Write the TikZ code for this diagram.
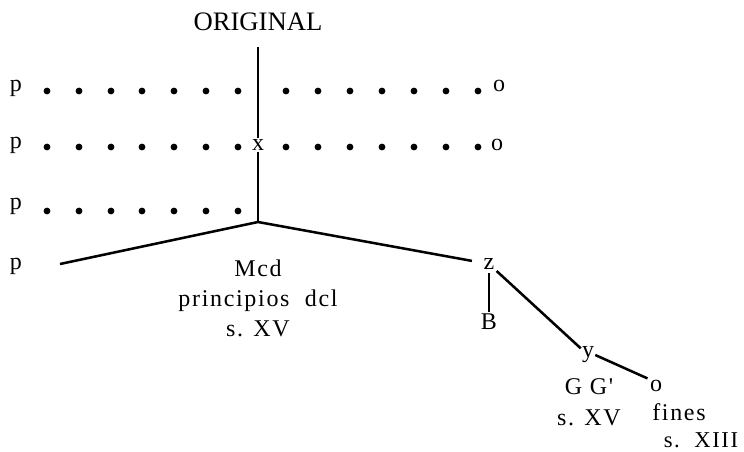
\documentclass[tikz,border=0pt]{standalone}
\usepackage{fontspec}
\setmainfont{Liberation Serif}
\newfontfamily\widefont[LetterSpace=7]{Liberation Serif}
\tikzset{
	lbl/.style={inner sep=0.75pt, font=\fontsize{18}{22.5}\selectfont},
	widelbl/.style={lbl, font=\widefont\fontsize{18}{22.5}\selectfont},
	stem/.style={line width=1.3pt},
	branch/.style={line width=1.9pt},
	dotc/.style={fill=black}
}
\begin{document}
\begin{tikzpicture}[x=0.75pt,y=0.75pt,yscale=-1,xscale=1]
	\useasboundingbox (0,0) rectangle (744,451);
	
	% Text Node
	\node [lbl, font=\fontsize{20}{24}\selectfont] (orig) at (258,22) {ORIGINAL};
	% Text Node
	\node [lbl] (x) at (258,145) {x};
	% Text Node
	\node [lbl] (p1) at (16,88) {p};
	\node [lbl] (p2) at (16,145) {p};
	\node [lbl] (p3) at (16,206) {p};
	\node [lbl] (p4) at (16,266) {p};
	% Text Node
	\node [lbl] (o1) at (499,86) {o};
	\node [lbl] (o2) at (497,145) {o};
	% Text Node
	\node [widelbl, align=center] (med) at (258,298) {Mcd\\principios\ \ dcl\\s. XV};
	% Text Node
	\node [lbl] (z) at (489,264) {z};
	\node [lbl] (B) at (489,322) {B};
	\node [lbl] (y) at (588,355) {y};
	\node [widelbl, align=center, font=\widefont\fontsize{18}{23}\selectfont] (gg) at (589,402) {G G'\\s. XV};
	\node [widelbl] (o3) at (656,386) {o};
	\node [widelbl] (fines) at (679,412) {fines};
	\node [widelbl, font=\widefont\fontsize{17}{20}\selectfont] (sxiii) at (701,440) {s.\ \ XIII};
	
	\coordinate (top) at (258,47);
	\coordinate (J) at (258,222);
	\coordinate (lend) at (60,264);
	
	%Lines
	\draw [stem] (top) -- (x);
	\draw [stem] (x) -- (J);
	\draw [branch] (J) -- (lend);
	\draw [branch, shorten >=8pt] (J) -- (z);
	\draw [stem, shorten <=2pt, shorten >=1pt] (z) -- (B);
	\draw [branch, shorten <=1pt] (z) -- (y);
	\draw [branch, shorten >=1pt] (y.east) -- (o3.north west);
	
	%Dots
	\fill [dotc] (47,91) circle (3.4) (79,91) circle (3.4) (111,91) circle (3.4) (142,91) circle (3.4) (174,91) circle (3.4) (206,91) circle (3.4) (238,91) circle (3.4)
		(286,91) circle (3.4) (318,91) circle (3.4) (350,91) circle (3.4) (382,91) circle (3.4) (414,91) circle (3.4) (446,91) circle (3.4) (478,91) circle (3.4);
	\fill [dotc] (47,147) circle (3.4) (79,147) circle (3.4) (111,147) circle (3.4) (142,147) circle (3.4) (174,147) circle (3.4) (206,147) circle (3.4) (238,147) circle (3.4)
		(286,147) circle (3.4) (318,147) circle (3.4) (350,147) circle (3.4) (382,147) circle (3.4) (414,147) circle (3.4) (446,147) circle (3.4) (478,147) circle (3.4);
	\fill [dotc] (47,211) circle (3.4) (79,211) circle (3.4) (111,211) circle (3.4) (142,211) circle (3.4) (174,211) circle (3.4) (206,211) circle (3.4) (238,211) circle (3.4);
	
\end{tikzpicture}
\end{document}
